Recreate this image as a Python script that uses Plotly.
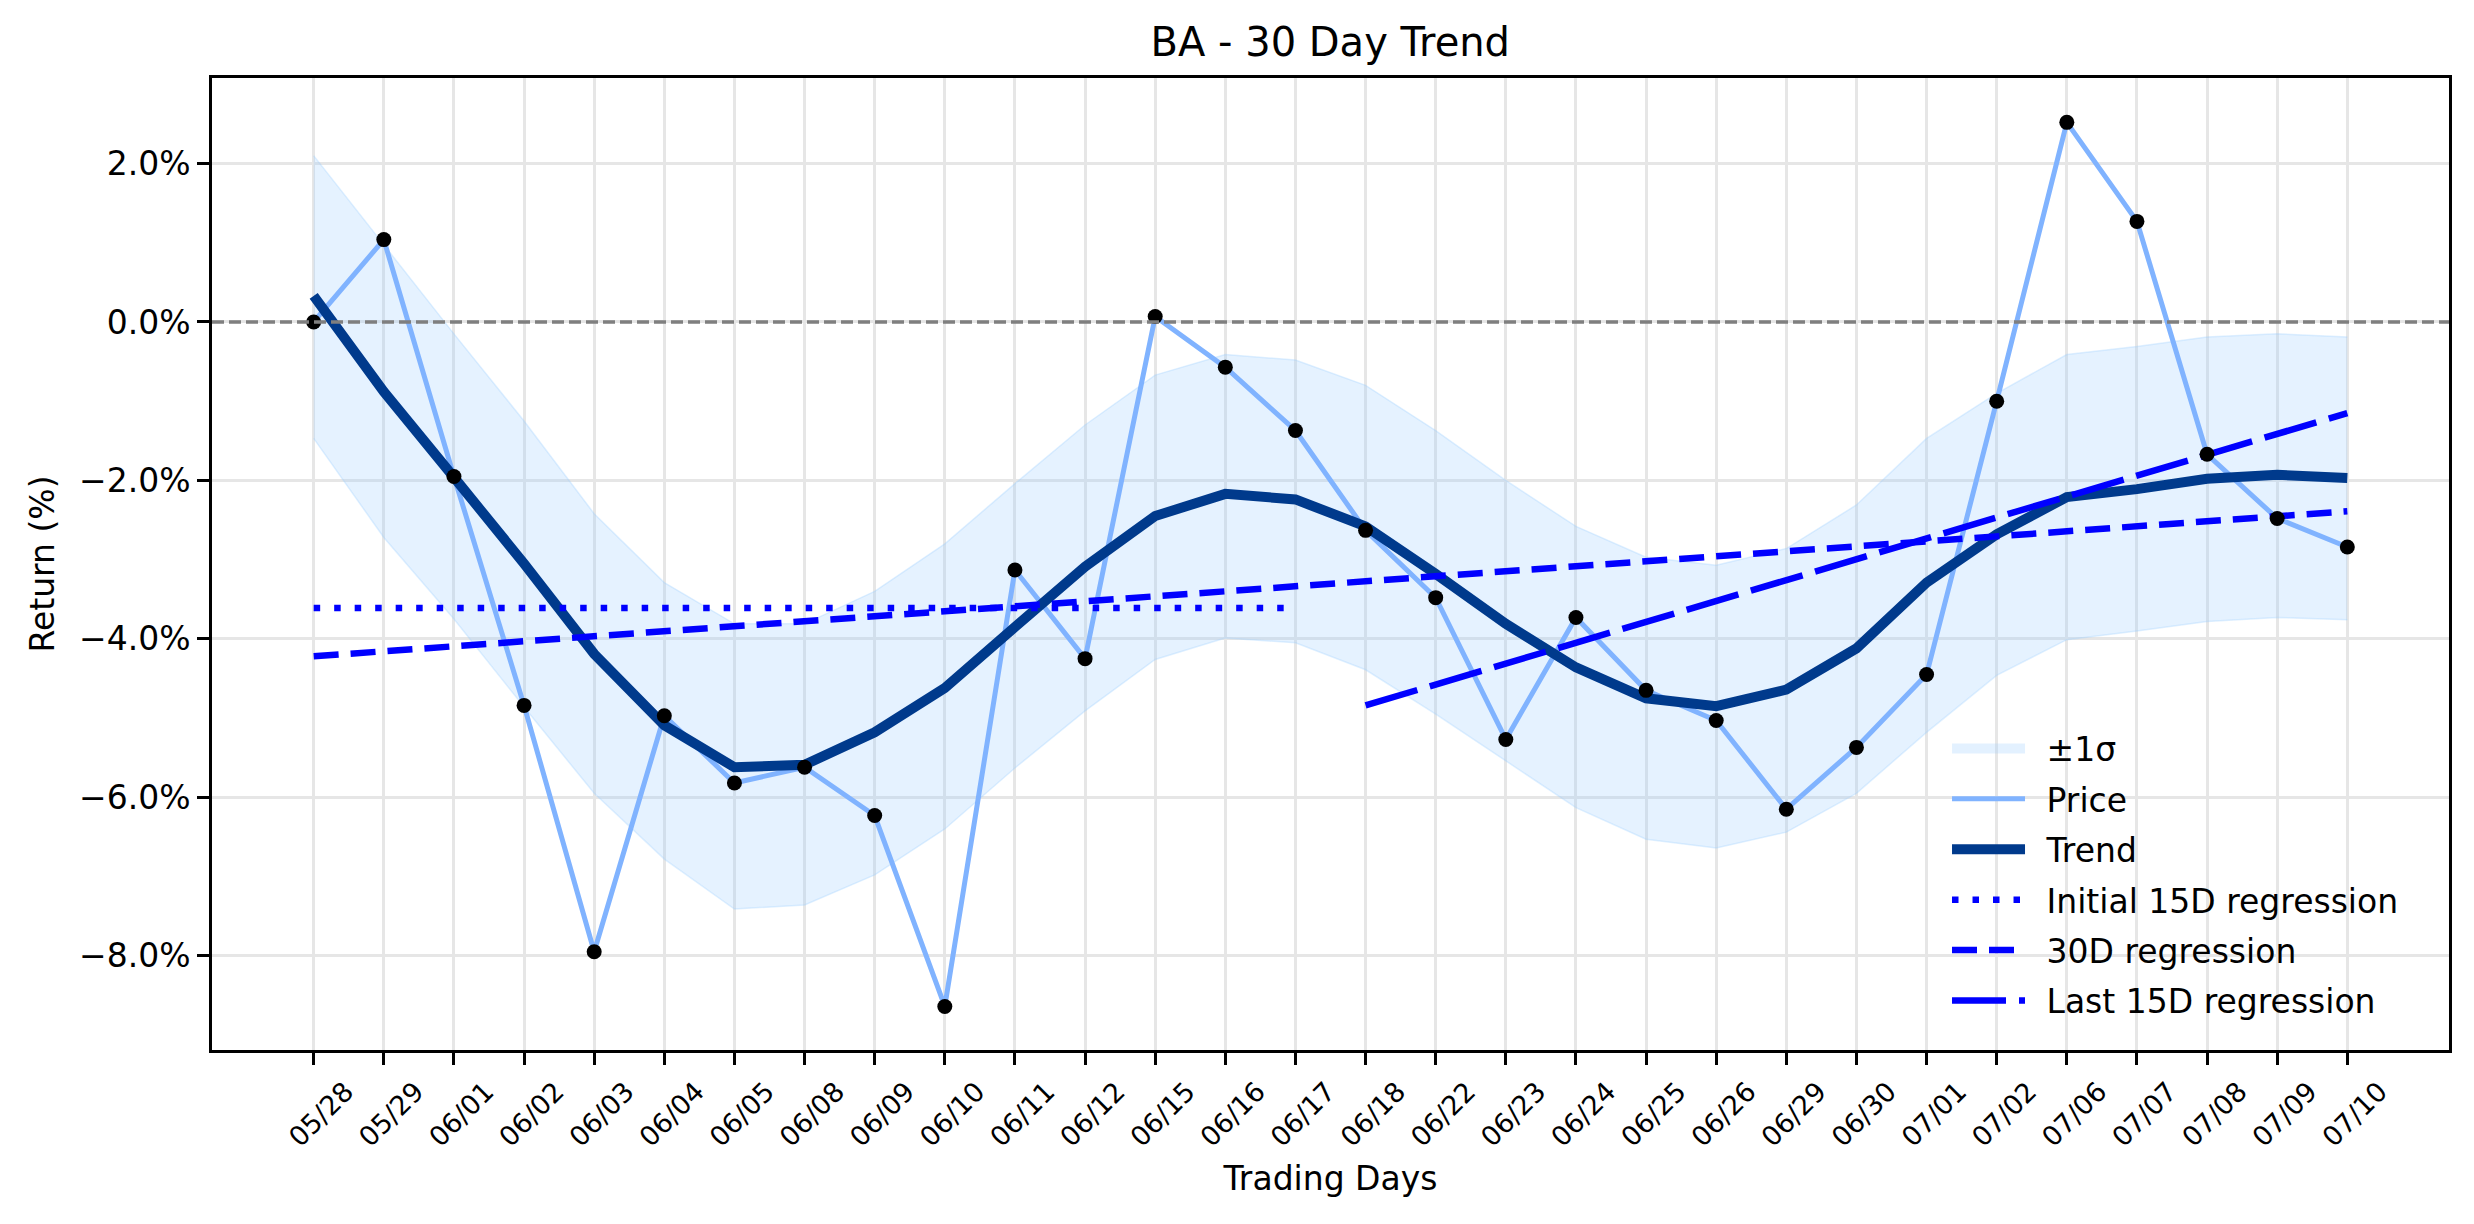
import plotly.graph_objects as go

# ---------------- data ----------------
dates = ["05/28", "05/29", "06/01", "06/02", "06/03", "06/04", "06/05", "06/08",
         "06/09", "06/10", "06/11", "06/12", "06/15", "06/16", "06/17", "06/18",
         "06/22", "06/23", "06/24", "06/25", "06/26", "06/29", "06/30", "07/01",
         "07/02", "07/06", "07/07", "07/08", "07/09", "07/10"]

price = [0.00, 1.04, -1.95, -4.84, -7.95, -4.97, -5.82, -5.62, -6.23, -8.64,
         -3.13, -4.25, 0.07, -0.57, -1.37, -2.63, -3.48, -5.27, -3.73, -4.65,
         -5.03, -6.15, -5.37, -4.45, -1.00, 2.52, 1.27, -1.67, -2.48, -2.84]

trend = [0.33, -0.88, -1.96, -3.05, -4.19, -5.09, -5.62, -5.59, -5.18, -4.62,
         -3.85, -3.09, -2.45, -2.17, -2.24, -2.58, -3.18, -3.81, -4.36, -4.75,
         -4.85, -4.64, -4.12, -3.29, -2.68, -2.21, -2.11, -1.98, -1.93, -1.97]

band_upper = [2.10, 0.98, -0.15, -1.25, -2.42, -3.29, -3.81, -3.81, -3.40, -2.80,
              -2.04, -1.30, -0.67, -0.41, -0.48, -0.80, -1.37, -2.00, -2.58, -2.97,
              -3.07, -2.86, -2.31, -1.47, -0.90, -0.41, -0.31, -0.19, -0.15, -0.19]

band_lower = [-1.47, -2.72, -3.75, -4.86, -5.95, -6.78, -7.41, -7.36, -6.98, -6.40,
              -5.63, -4.91, -4.26, -3.99, -4.05, -4.39, -4.95, -5.54, -6.13, -6.53,
              -6.64, -6.44, -5.95, -5.18, -4.46, -4.01, -3.90, -3.78, -3.73, -3.76]

reg_initial_dates = ["05/28", "06/17"]
reg_initial_vals = [-3.61, -3.61]
reg_30d_dates = ["05/28", "07/10"]
reg_30d_vals = [-4.22, -2.39]
reg_last_dates = ["06/18", "07/10"]
reg_last_vals = [-4.84, -1.15]

y_ticks = [-8, -6, -4, -2, 0, 2]
y_tick_text = [("\u2212" if v < 0 else "") + f"{abs(v):.1f}%" for v in y_ticks]

# ---------------- styles ----------------
FONT = "DejaVu Sans"
BLUE = "#0000FF"
BAND_FILL = "rgba(153,204,255,0.25)"
BAND_EDGE = "rgba(153,204,255,0.30)"
GAP = "\u2002"  # spacing between legend symbol and label

fig = go.Figure()

# band
fig.add_trace(go.Scatter(x=dates, y=band_upper, mode="lines",
                         line=dict(color=BAND_EDGE, width=1.5),
                         showlegend=False, hoverinfo="skip"))
fig.add_trace(go.Scatter(x=dates, y=band_lower, mode="lines", fill="tonexty",
                         fillcolor=BAND_FILL,
                         line=dict(color=BAND_EDGE, width=1.5),
                         showlegend=False, legendgroup="g1"))
# legend swatch for the band
fig.add_trace(go.Scatter(x=[None], y=[None], mode="lines",
                         line=dict(color="rgba(153,204,255,0.27)", width=16),
                         name=GAP + "±1σ", legendgroup="g1", legendrank=1))

# price line
fig.add_trace(go.Scatter(x=dates, y=price, mode="lines",
                         line=dict(color="#80B3FF", width=5),
                         name=GAP + "Price", legendgroup="g2", legendrank=2))
# trend
fig.add_trace(go.Scatter(x=dates, y=trend, mode="lines",
                         line=dict(color="#003A8C", width=10),
                         name=GAP + "Trend", legendgroup="g3", legendrank=3))
# regressions
fig.add_trace(go.Scatter(x=reg_initial_dates, y=reg_initial_vals, mode="lines",
                         line=dict(color=BLUE, width=6.5, dash="6.5px,14px"),
                         name=GAP + "Initial 15D regression", legendgroup="g4", legendrank=4))
fig.add_trace(go.Scatter(x=reg_30d_dates, y=reg_30d_vals, mode="lines",
                         line=dict(color=BLUE, width=6.5, dash="25px,12px"),
                         name=GAP + "30D regression", legendgroup="g5", legendrank=5))
fig.add_trace(go.Scatter(x=reg_last_dates, y=reg_last_vals, mode="lines",
                         line=dict(color=BLUE, width=6.5, dash="54px,13px"),
                         name=GAP + "Last 15D regression", legendgroup="g6", legendrank=6))
# price markers
fig.add_trace(go.Scatter(x=dates, y=price, mode="markers",
                         marker=dict(color="black", size=15),
                         showlegend=False))

# zero line
fig.add_shape(type="line", xref="paper", x0=0, x1=1, yref="y", y0=0, y1=0,
              line=dict(color="#7F7F7F", width=3.3, dash="12px,5px"), layer="above")

axis_common = dict(showline=True, linecolor="black", linewidth=2.7, mirror=True,
                   ticks="outside", ticklen=12, tickwidth=2.7, tickcolor="black",
                   showgrid=True, gridcolor="#E6E6E6", gridwidth=2.5,
                   zeroline=False)

fig.update_layout(
    width=2474, height=1224,
    margin=dict(l=212, r=25, t=78, b=174),
    paper_bgcolor="white", plot_bgcolor="white",
    font=dict(family=FONT, color="black", size=33),
    title=dict(text="BA - 30 Day Trend", x=0.5377, xanchor="center",
               y=1 - 42 / 1224, yanchor="middle", yref="container",
               font=dict(family=FONT, size=40, color="black")),
    xaxis=dict(type="category", categoryorder="array", categoryarray=dates,
               range=[-1.45, 30.45], tickangle=-45, ticklabelshift=32,
               tickfont=dict(family=FONT, size=27, color="black"),
               title=dict(text="Trading Days", font=dict(family=FONT, size=33), standoff=16),
               **axis_common),
    yaxis=dict(range=[-9.19, 3.08], tickmode="array", tickvals=y_ticks,
               ticktext=y_tick_text,
               tickfont=dict(family=FONT, size=33, color="black"),
               title=dict(text="Return (%)", font=dict(family=FONT, size=33), standoff=15),
               **axis_common),
    legend=dict(x=0.7756, y=0.339, xanchor="left", yanchor="top",
                bgcolor="rgba(0,0,0,0)", borderwidth=0,
                font=dict(family=FONT, size=33, color="black"),
                itemwidth=73, tracegroupgap=4.5),
    showlegend=True,
)

fig.write_html("out.html")
